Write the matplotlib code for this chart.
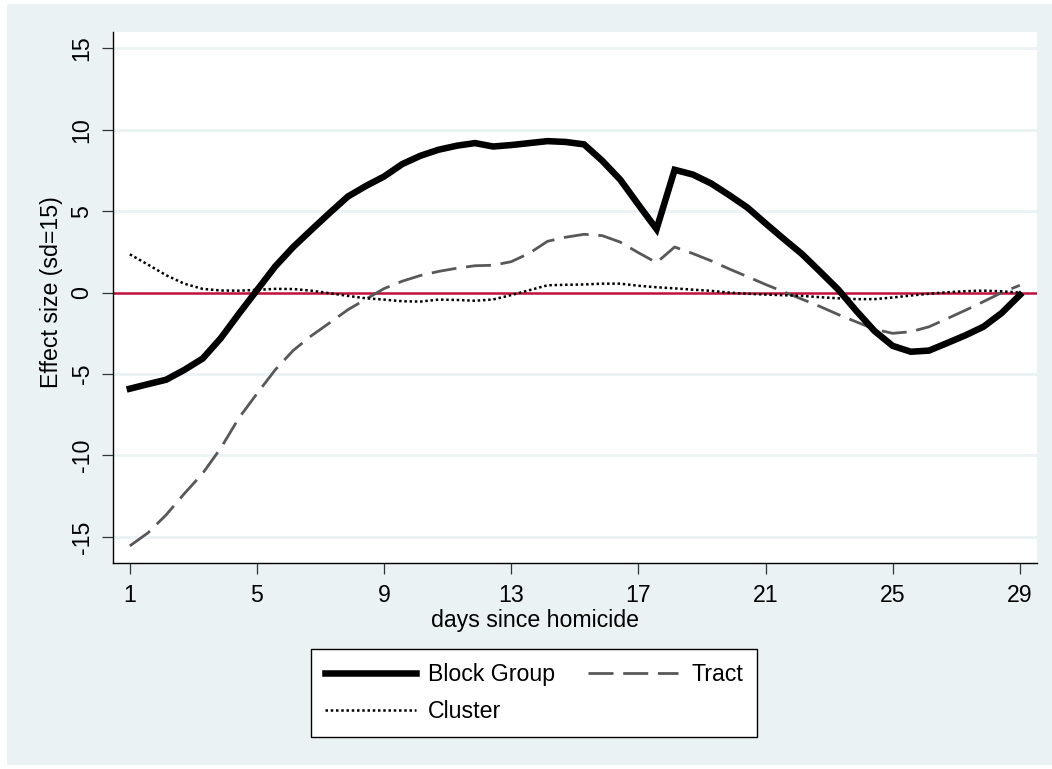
import matplotlib
matplotlib.use('Agg')
import matplotlib.pyplot as plt
from matplotlib.patches import Rectangle

plt.rcParams['font.family'] = ['Liberation Sans', 'DejaVu Sans']
plt.rcParams['axes.unicode_minus'] = False

# days since homicide (evenly spaced points)
days = [1.0, 1.57, 2.14, 2.71, 3.29, 3.86, 4.43, 5.0, 5.57, 6.14,
        6.71, 7.29, 7.86, 8.43, 9.0, 9.57, 10.14, 10.71, 11.29, 11.86,
        12.43, 13.0, 13.57, 14.14, 14.71, 15.29, 15.86, 16.43, 17.0, 17.57,
        18.14, 18.71, 19.29, 19.86, 20.43, 21.0, 21.57, 22.14, 22.71, 23.29,
        23.86, 24.43, 25.0, 25.57, 26.14, 26.71, 27.29, 27.86, 28.43, 29.0]

block_group = [-5.90, -5.62, -5.35, -4.75, -4.05, -2.80, -1.30, 0.15, 1.60, 2.80,
               3.85, 4.90, 5.90, 6.55, 7.13, 7.89, 8.40, 8.77, 9.02, 9.18,
               8.97, 9.06, 9.18, 9.30, 9.25, 9.10, 8.10, 6.93, 5.40, 3.90,
               7.54, 7.25, 6.70, 5.98, 5.22, 4.25, 3.30, 2.38, 1.30, 0.18,
               -1.13, -2.36, -3.27, -3.63, -3.56, -3.10, -2.62, -2.09, -1.25, -0.15]

tract = [-15.55, -14.75, -13.65, -12.35, -11.10, -9.55, -7.70, -6.20, -4.75, -3.55,
         -2.65, -1.85, -1.05, -0.40, 0.25, 0.70, 1.05, 1.30, 1.50, 1.65,
         1.68, 1.90, 2.42, 3.15, 3.40, 3.58, 3.50, 3.10, 2.45, 1.84,
         2.80, 2.40, 1.95, 1.45, 0.98, 0.50, 0.05, -0.40, -0.85, -1.35,
         -1.80, -2.25, -2.50, -2.40, -2.10, -1.60, -1.08, -0.55, 0.00, 0.45]

cluster = [2.35, 1.72, 1.07, 0.55, 0.23, 0.13, 0.12, 0.17, 0.23, 0.22,
           0.12, -0.04, -0.20, -0.35, -0.43, -0.53, -0.55, -0.43, -0.45, -0.50,
           -0.42, -0.15, 0.15, 0.45, 0.48, 0.50, 0.55, 0.55, 0.42, 0.33,
           0.26, 0.18, 0.11, 0.00, -0.07, -0.12, -0.16, -0.20, -0.28, -0.35,
           -0.40, -0.40, -0.30, -0.18, -0.07, 0.02, 0.09, 0.12, 0.08, 0.00]

xticks = [1, 5, 9, 13, 17, 21, 25, 29]
yticks = [-15, -10, -5, 0, 5, 10, 15]

W, H = 1052, 769
bg = '#EAF2F3'
fs = 16.7

fig = plt.figure(figsize=(W / 100, H / 100), dpi=100, facecolor='white')
fig.patches.append(Rectangle((7 / W, 4 / H), 1 - 7 / W, 1 - 8 / H, transform=fig.transFigure,
                             facecolor=bg, edgecolor='none', zorder=-10))

ax = fig.add_axes([113 / W, 1 - 563 / H, (1037 - 113) / W, (563 - 32) / H])
ax.set_facecolor('white')

l_bg, = ax.plot(days, block_group, color='black', lw=4.7, solid_joinstyle='miter',
                label='Block Group', zorder=4)
l_tr, = ax.plot(days, tract, color='#585858', lw=2.0, linestyle=(0, (9, 3.5)),
                label='Tract', zorder=3)
l_cl, = ax.plot(days, cluster, color='black', lw=1.8, linestyle=(0, (1, 1.1)),
                label='Cluster', zorder=3)
ax.axhline(0, color='#C4123F', lw=1.8, zorder=2)

ax.set_xlim(0.47, 29.54)
ax.set_ylim(-16.6, 16.0)
ax.set_xticks(xticks)
ax.set_yticks(yticks)
ax.yaxis.grid(True, color=bg, lw=2.0, zorder=0)
ax.set_axisbelow(True)

for s in ['top', 'right']:
    ax.spines[s].set_visible(False)
for s in ['left', 'bottom']:
    ax.spines[s].set_color('black')
    ax.spines[s].set_linewidth(1.0)

ax.tick_params(axis='both', direction='out', length=8, width=0.9, color='#333333',
               labelsize=fs, labelcolor='black')
ax.tick_params(axis='x', pad=7)
ax.tick_params(axis='y', pad=6, labelrotation=90)
for lab in ax.get_yticklabels():
    lab.set_va('center')

fig.text(535 / W, 1 - 621 / H, 'days since homicide', ha='center', va='center', fontsize=fs)
fig.text(52 / W, 1 - 292 / H, 'Effect size (sd=15)', ha='center', va='center',
         rotation=90, fontsize=fs)

# column-wise fill: Block Group / Cluster in first column, Tract in second
leg = fig.legend([l_bg, l_cl, l_tr], ['Block Group', 'Cluster', 'Tract'],
                 loc='center', bbox_to_anchor=(534 / W, 1 - 693 / H),
                 ncol=2, fontsize=fs, frameon=True, fancybox=False, framealpha=1,
                 handlelength=3.9, handletextpad=0.55, columnspacing=1.4,
                 labelspacing=0.6, borderpad=0.6)
leg.get_frame().set_edgecolor('black')
leg.get_frame().set_facecolor('white')
leg.get_frame().set_linewidth(1.0)

plt.savefig('out.png', dpi=100, facecolor='white')
